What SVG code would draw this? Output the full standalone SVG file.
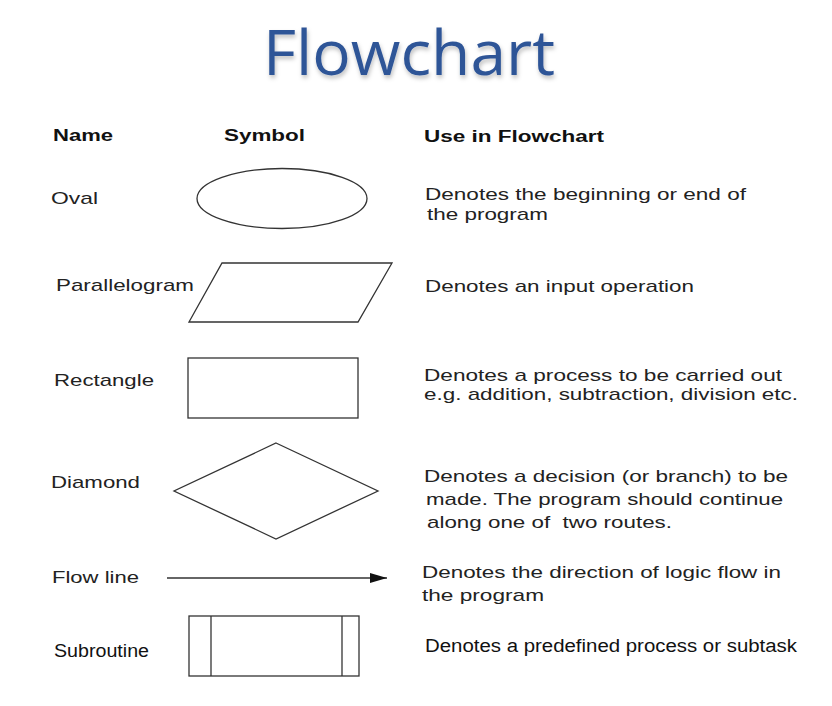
<svg xmlns="http://www.w3.org/2000/svg" width="832" height="706" viewBox="0 0 832 706">
<style>
  .shape { fill: #ffffff; stroke: #333333; stroke-width: 1.3; }
  .hdr { font-family: "Liberation Sans", Arial, sans-serif; font-weight: bold; font-size: 16px; fill: #111111; }
  .lbl { font-family: "Liberation Sans", Arial, sans-serif; font-size: 17px; fill: #222222; }
  .lbl2 { font-family: "Liberation Sans", Arial, sans-serif; font-size: 18px; fill: #111111; }
  .title { font-family: "Open Sans", "Liberation Sans", sans-serif; font-size: 62px; fill: #2F5597; }
</style>
<defs>
  <filter id="shadow" x="-5%" y="-10%" width="110%" height="130%">
    <feDropShadow dx="1" dy="3" stdDeviation="2" flood-color="#000000" flood-opacity="0.25"/>
  </filter>
  <marker id="arrow" viewBox="0 0 17 10" refX="17" refY="5" markerWidth="17" markerHeight="10" markerUnits="userSpaceOnUse" orient="auto">
    <path d="M0,0 L17,5 L0,10 Z" fill="#111111"/>
  </marker>
</defs>
<rect width="832" height="706" fill="#ffffff"/>

<g id="title">
  <text class="title" x="263" y="75" textLength="292" lengthAdjust="spacingAndGlyphs" filter="url(#shadow)">Flowchart</text>
</g>

<g id="headers">
  <text class="hdr" x="53" y="141" textLength="60" lengthAdjust="spacingAndGlyphs">Name</text>
  <text class="hdr" x="224" y="141" textLength="81" lengthAdjust="spacingAndGlyphs">Symbol</text>
  <text class="hdr" x="424" y="142" textLength="180" lengthAdjust="spacingAndGlyphs">Use in Flowchart</text>
</g>

<g id="oval">
  <text class="lbl" x="51" y="204" textLength="47" lengthAdjust="spacingAndGlyphs">Oval</text>
  <ellipse class="shape" cx="282" cy="198.5" rx="85" ry="30"/>
  <text class="lbl" x="425" y="200" textLength="321" lengthAdjust="spacingAndGlyphs">Denotes the beginning or end of</text>
  <text class="lbl" x="427" y="220" textLength="121" lengthAdjust="spacingAndGlyphs">the program</text>
</g>

<g id="parallelogram">
  <text class="lbl" x="56" y="291" textLength="138" lengthAdjust="spacingAndGlyphs">Parallelogram</text>
  <polygon class="shape" points="222,263 392,263 358,322 189,322"/>
  <text class="lbl" x="425" y="292" textLength="269" lengthAdjust="spacingAndGlyphs">Denotes an input operation</text>
</g>

<g id="rectangle">
  <text class="lbl" x="54" y="386" textLength="100" lengthAdjust="spacingAndGlyphs">Rectangle</text>
  <rect class="shape" x="188" y="358" width="170" height="60"/>
  <text class="lbl" x="424" y="381" textLength="358" lengthAdjust="spacingAndGlyphs">Denotes a process to be carried out</text>
  <text class="lbl" x="424" y="400" textLength="374" lengthAdjust="spacingAndGlyphs">e.g. addition, subtraction, division etc.</text>
</g>

<g id="diamond">
  <text class="lbl" x="51" y="488" textLength="89" lengthAdjust="spacingAndGlyphs">Diamond</text>
  <polygon class="shape" points="276,443 378,491 276,539 174,491"/>
  <text class="lbl" x="424" y="482" textLength="364" lengthAdjust="spacingAndGlyphs">Denotes a decision (or branch) to be</text>
  <text class="lbl" x="426" y="505" textLength="357" lengthAdjust="spacingAndGlyphs">made. The program should continue</text>
  <text class="lbl" x="427" y="528" textLength="245" lengthAdjust="spacingAndGlyphs" style="white-space: pre">along one of  two routes.</text>
</g>

<g id="flowline">
  <text class="lbl" x="52" y="583" textLength="87" lengthAdjust="spacingAndGlyphs">Flow line</text>
  <text class="lbl" x="422" y="578" textLength="359" lengthAdjust="spacingAndGlyphs">Denotes the direction of logic flow in</text>
  <text class="lbl" x="422" y="601" textLength="122" lengthAdjust="spacingAndGlyphs">the program</text>
</g>

<g id="subroutine">
  <text class="lbl2" x="54" y="657" textLength="95" lengthAdjust="spacingAndGlyphs">Subroutine</text>
  <rect class="shape" x="189" y="616" width="170" height="60"/>
  <line class="shape" x1="211" y1="616" x2="211" y2="676"/>
  <line class="shape" x1="342" y1="616" x2="342" y2="676"/>
  <text class="lbl2" x="425" y="652" textLength="372" lengthAdjust="spacingAndGlyphs">Denotes a predefined process or subtask</text>
</g>

<g id="connectors">
  <line x1="167" y1="578" x2="387" y2="578" stroke="#333333" stroke-width="1.3" marker-end="url(#arrow)"/>
</g>
</svg>
